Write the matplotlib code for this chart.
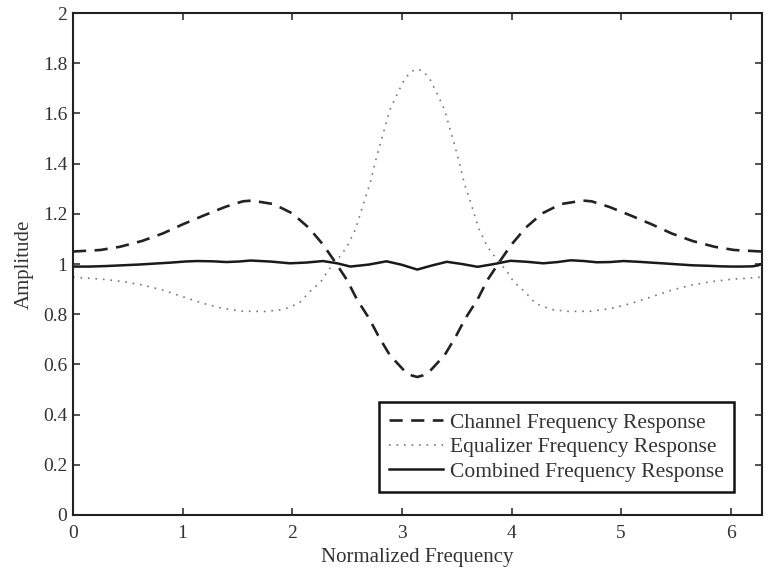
import matplotlib
matplotlib.use("Agg")
import matplotlib.pyplot as plt
import numpy as np

plt.rcParams['font.family'] = ['Liberation Serif', 'DejaVu Serif']

# values
chan_x = [0, 0.25, 0.43, 0.63, 0.82, 1.0, 1.19, 1.39, 1.55, 1.63, 1.83, 2.0, 2.15,
          2.28, 2.39, 2.5, 2.59, 2.7, 2.79, 2.89, 3.03, 3.09, 3.14,
          3.19, 3.25, 3.39, 3.49, 3.58, 3.69, 3.78, 3.89, 4.0, 4.13, 4.28, 4.45,
          4.65, 4.73, 4.89, 5.09, 5.28, 5.46, 5.65, 5.85, 6.03, 6.28]
chan_y = [1.05, 1.056, 1.069, 1.092, 1.122, 1.158, 1.193, 1.228, 1.25, 1.253, 1.239, 1.202, 1.145,
          1.078, 1.009, 0.936, 0.859, 0.784, 0.71, 0.637, 0.571, 0.556, 0.55,
          0.556, 0.571, 0.637, 0.71, 0.784, 0.859, 0.936, 1.009, 1.078, 1.145, 1.202, 1.239,
          1.253, 1.25, 1.228, 1.193, 1.158, 1.122, 1.092, 1.069, 1.056, 1.05]

eq_x = [0, 0.28, 0.46, 0.64, 0.82, 1.0, 1.19, 1.37, 1.55, 1.75, 1.92, 2.06, 2.16,
        2.26, 2.33, 2.41, 2.5, 2.58, 2.65, 2.71, 2.77, 2.83, 2.89, 2.96, 3.02, 3.08, 3.14,
        3.2, 3.26, 3.32, 3.39, 3.45, 3.51, 3.57, 3.63, 3.7, 3.78, 3.87, 3.95, 4.02,
        4.12, 4.22, 4.36, 4.53, 4.73, 4.91, 5.09, 5.28, 5.46, 5.64, 5.82, 6.0, 6.28]
eq_y = [0.948, 0.939, 0.93, 0.916, 0.896, 0.87, 0.843, 0.823, 0.812, 0.811, 0.819, 0.843, 0.89,
        0.929, 0.976, 1.016, 1.069, 1.142, 1.242, 1.321, 1.428, 1.521, 1.614, 1.68, 1.733, 1.766, 1.778,
        1.766, 1.733, 1.68, 1.614, 1.521, 1.428, 1.321, 1.242, 1.142, 1.069, 1.016, 0.976, 0.929,
        0.89, 0.843, 0.819, 0.811, 0.812, 0.823, 0.843, 0.87, 0.896, 0.916, 0.93, 0.939, 0.948]

comb_x = [0, 0.15, 0.3, 0.45, 0.6, 0.75, 0.9, 1.02, 1.13, 1.27, 1.4, 1.51, 1.62, 1.8, 1.98,
          2.13, 2.28, 2.41, 2.53, 2.7, 2.86, 3.0, 3.14, 3.28, 3.41, 3.55, 3.69, 3.84, 3.99,
          4.14, 4.29, 4.42, 4.54, 4.66, 4.78, 4.9, 5.02, 5.16, 5.3, 5.41, 5.51, 5.65, 5.8,
          5.9, 6.0, 6.1, 6.2, 6.25, 6.28]
comb_y = [0.99, 0.99, 0.992, 0.995, 0.998, 1.002, 1.006, 1.01, 1.012, 1.011, 1.008, 1.01, 1.014,
          1.01, 1.003, 1.006, 1.012, 1.003, 0.99, 0.998, 1.011, 0.997, 0.978, 0.995, 1.009,
          1.0, 0.989, 1.0, 1.013, 1.009, 1.003, 1.008, 1.015, 1.012, 1.007, 1.008, 1.012,
          1.009, 1.005, 1.002, 0.999, 0.995, 0.993, 0.991, 0.99, 0.99, 0.991, 0.995, 1.0]

labels = ['Channel Frequency Response', 'Equalizer Frequency Response',
          'Combined Frequency Response']

fig = plt.figure(figsize=(7.68, 5.70), dpi=100)
ax = fig.add_axes([0.095, 0.0965, 0.897, 0.8805])

ax.plot(chan_x, chan_y, color='#222222', lw=1.9, ls=(0, (5, 3.2)), label=labels[0])
ax.plot(eq_x, eq_y, color='#777777', lw=1.2, ls=(0, (1, 3.5)), label=labels[1])
ax.plot(comb_x, comb_y, color='#1a1a1a', lw=1.8, ls='-', label=labels[2])

ax.set_xlim(0, 2 * np.pi)
ax.set_ylim(0, 2)
ax.set_xticks(range(0, 7))
ax.set_yticks(np.arange(0, 2.01, 0.2))
ax.set_yticklabels(['0', '0.2', '0.4', '0.6', '0.8', '1', '1.2', '1.4', '1.6', '1.8', '2'])
ax.tick_params(direction='in', top=True, right=True, length=5, width=1.2,
               labelsize=14, colors='#333333', labelcolor='#333333')
ax.tick_params(axis='x', pad=7.5)
ax.tick_params(axis='y', pad=4)
for s in ax.spines.values():
    s.set_linewidth(1.5)
    s.set_color('#222222')

ax.set_xlabel('Normalized Frequency', fontsize=15, color='#333333', labelpad=4)
ax.set_ylabel('Amplitude', fontsize=15, color='#333333')
ax.yaxis.set_label_coords(-0.057, 0.5)

leg = ax.legend(loc='lower right', bbox_to_anchor=(0.96, 0.045), fontsize=15.5,
                handlelength=2.5, fancybox=False, framealpha=1, borderpad=0.5,
                labelspacing=0.2, handletextpad=0.3, borderaxespad=0)
leg.get_frame().set_edgecolor('#111111')
leg.get_frame().set_linewidth(1.8)
for t in leg.get_texts():
    t.set_color('#333333')

fig.savefig('out.png', dpi=100)
